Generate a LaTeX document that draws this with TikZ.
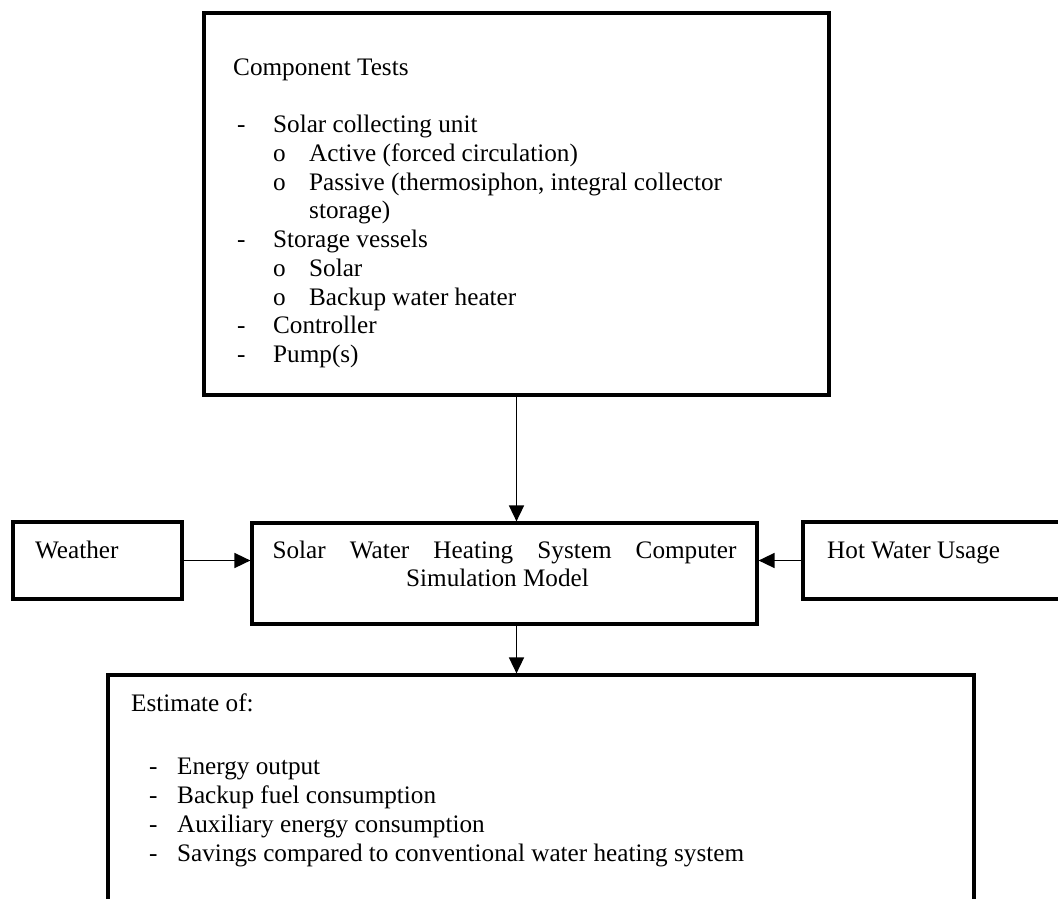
\documentclass[tikz,border=0pt]{standalone}
\usepackage{fontspec}
\setmainfont{Liberation Serif}
\usetikzlibrary{positioning}
\usetikzlibrary{calc}
\usetikzlibrary{arrows.meta}
\definecolor{framecolor}{RGB}{0, 0, 0}
\tikzstyle{block} = [
    draw=framecolor,
    line width=3.3pt,
    inner sep=0pt,
    outer sep=0pt,
    anchor=north west
]
\tikzstyle{blocktext} = [inner sep=0pt, anchor=north west, align=left, font=\fontsize{25.2}{28.75}\selectfont]
\tikzstyle{flow} = [-{Triangle[length=16pt, width=15pt]}, line width=1.6pt, framecolor, shorten >=1.6pt]
\newcommand{\firstline}{\rule{0pt}{20pt}}
\newcommand{\dashitem}[1]{\hspace*{4pt}\makebox[36pt][l]{-}#1}
\newcommand{\circitem}[1]{\hspace*{40pt}\makebox[36pt][l]{o}#1}
\newcommand{\estitem}[1]{\hspace*{18pt}\makebox[28pt][l]{-}#1}

\begin{document}
\begin{tikzpicture}[x=1pt, y=-1pt]

	\fill[white] (0,0) rectangle (1058,899);
	\clip (0,0) rectangle (1058,899);

	%
	% Boxes
	\node[block, minimum width=625pt, minimum height=382pt] (tests) at (204,13) {};
	\node[block, minimum width=169pt, minimum height=77pt] (weather) at (13,522) {};
	\node[block, minimum width=505pt, minimum height=101pt] (model) at (252,523) {};
	\node[block, minimum width=300pt, minimum height=77pt] (usage) at (803,522) {};
	\node[block, minimum width=866pt, minimum height=270pt] (estimate) at (108,675) {};

	%
	% Texts
	\node[blocktext] (testslist) at ([shift={(29,42)}]tests.north west) {\firstline Component Tests\\[28.75pt]
		\dashitem{Solar collecting unit}\\
		\circitem{Active (forced circulation)}\\
		\circitem{Passive (thermosiphon, integral collector}\\
		\hspace*{76pt}storage)\\
		\dashitem{Storage vessels}\\
		\circitem{Solar}\\
		\circitem{Backup water heater}\\
		\dashitem{Controller}\\
		\dashitem{Pump(s)}};
	\node[blocktext] (weatherlabel) at ([shift={(22,16)}]weather.north west) {\firstline Weather};
	\node[blocktext, anchor=north, align=center] (modellabel) at ([shift={(0,15)}]model.north) {\firstline\makebox[464pt][s]{Solar Water Heating System Computer}\\
		\hspace*{-14pt}Simulation Model};
	\node[blocktext] (usagelabel) at ([shift={(24,16)}]usage.north west) {\firstline Hot Water Usage};
	\node[blocktext] (estimatelist) at ([shift={(23,16)}]estimate.north west) {\firstline Estimate of:\\[35pt]
		\estitem{Energy output}\\
		\estitem{Backup fuel consumption}\\
		\estitem{Auxiliary energy consumption}\\
		\estitem{Savings compared to conventional water heating system}};

	%
	% Arrows
	\draw[flow] (tests.south) -- (tests.south |- model.north);
	\draw[flow] (weather.east) -- (weather.east -| model.west);
	\draw[flow] (usage.west) -- (usage.west -| model.east);
	\draw[flow] (model.south -| tests.south) -- (estimate.north -| tests.south);

\end{tikzpicture}
\end{document}
